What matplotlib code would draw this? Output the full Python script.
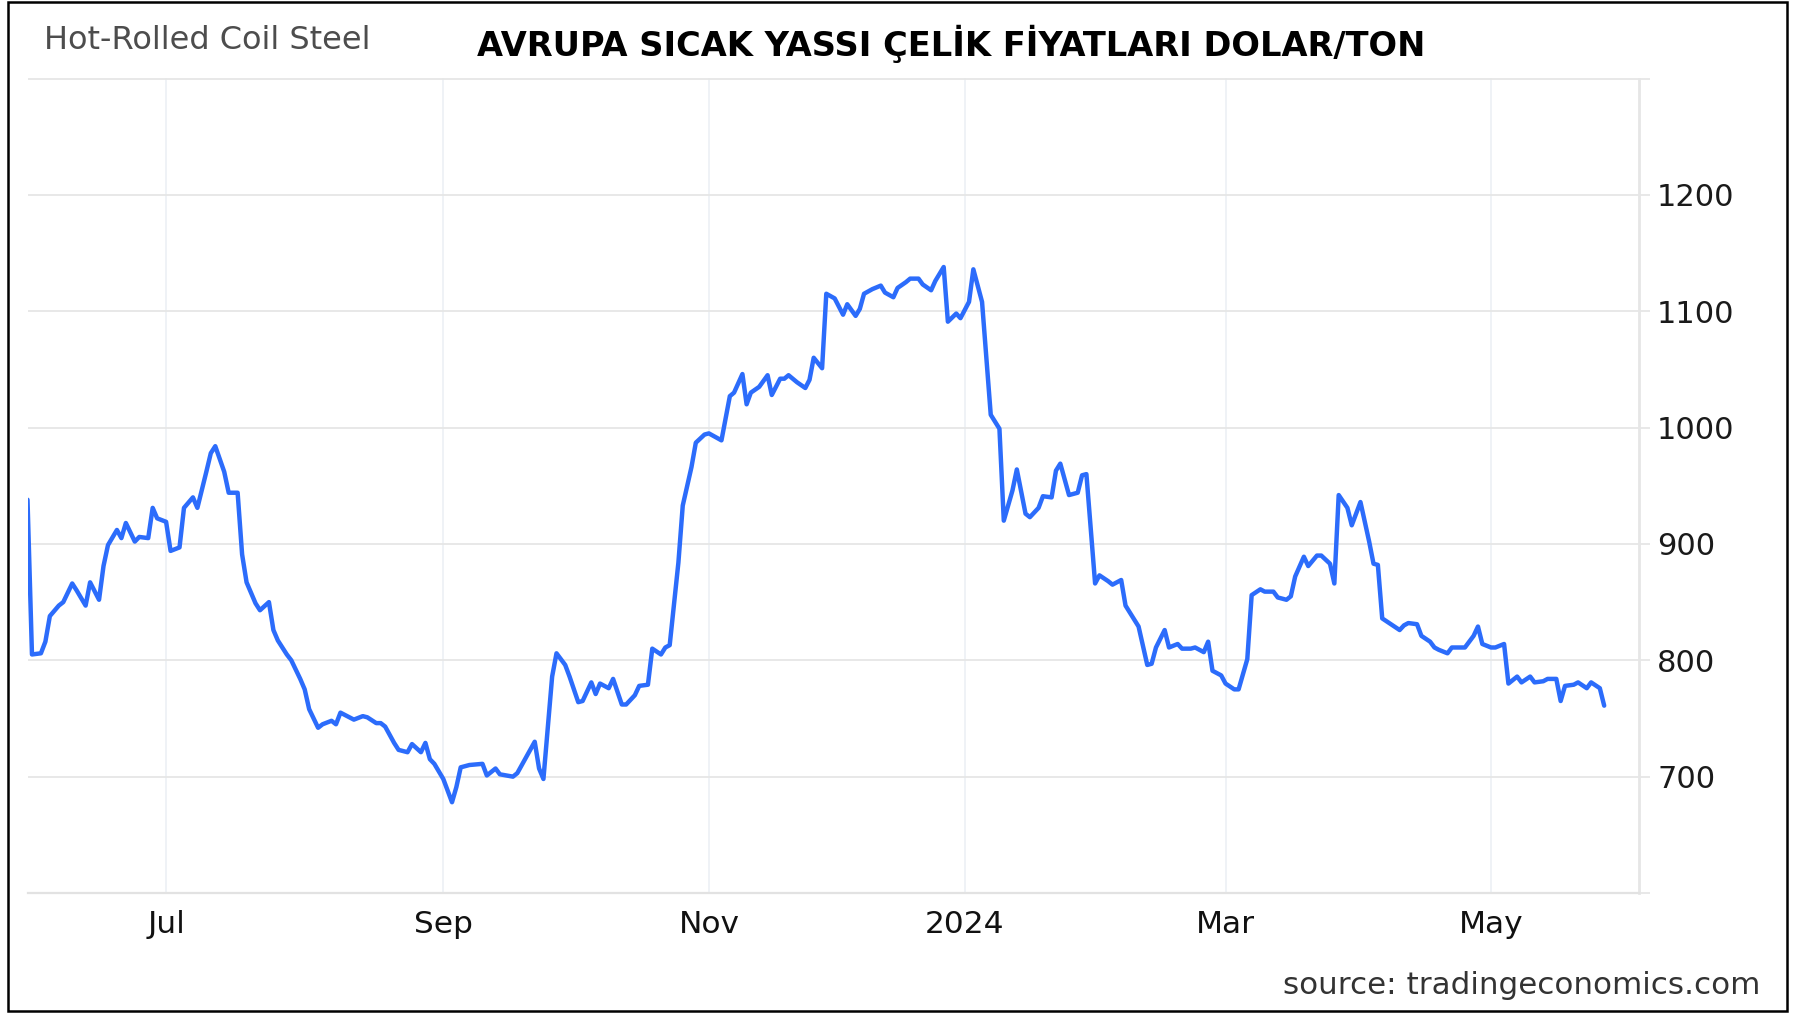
import matplotlib
matplotlib.use("Agg")
import matplotlib.pyplot as plt
import matplotlib.dates as mdates
from matplotlib.patches import Rectangle
from matplotlib.ticker import FuncFormatter, NullLocator
import numpy as np
import pandas as pd

# ---------------- data ----------------
dates = [
    "2023-05-31", "2023-06-01", "2023-06-03", "2023-06-04", "2023-06-05", "2023-06-07", "2023-06-08",
    "2023-06-10", "2023-06-11", "2023-06-13", "2023-06-14", "2023-06-16", "2023-06-17", "2023-06-18",
    "2023-06-20", "2023-06-21", "2023-06-22", "2023-06-24", "2023-06-25", "2023-06-27", "2023-06-28",
    "2023-06-29", "2023-07-01", "2023-07-02", "2023-07-04", "2023-07-05", "2023-07-07", "2023-07-08",
    "2023-07-10", "2023-07-11", "2023-07-12", "2023-07-14", "2023-07-15", "2023-07-17", "2023-07-18",
    "2023-07-19", "2023-07-21", "2023-07-22", "2023-07-24", "2023-07-25", "2023-07-26", "2023-07-28",
    "2023-07-29", "2023-07-31", "2023-08-01", "2023-08-02", "2023-08-04", "2023-08-05", "2023-08-07",
    "2023-08-08", "2023-08-09", "2023-08-11", "2023-08-12", "2023-08-14", "2023-08-15", "2023-08-17",
    "2023-08-18", "2023-08-19", "2023-08-21", "2023-08-22", "2023-08-24", "2023-08-25", "2023-08-27",
    "2023-08-28", "2023-08-29", "2023-08-30", "2023-09-01", "2023-09-03", "2023-09-04", "2023-09-05",
    "2023-09-07", "2023-09-10", "2023-09-11", "2023-09-13", "2023-09-14", "2023-09-17", "2023-09-18",
    "2023-09-22", "2023-09-23", "2023-09-24", "2023-09-26", "2023-09-27", "2023-09-29", "2023-09-30",
    "2023-10-02", "2023-10-03", "2023-10-05", "2023-10-06", "2023-10-07", "2023-10-09", "2023-10-10",
    "2023-10-12", "2023-10-13", "2023-10-15", "2023-10-16", "2023-10-18", "2023-10-19", "2023-10-21",
    "2023-10-22", "2023-10-23", "2023-10-25", "2023-10-26", "2023-10-28", "2023-10-29", "2023-10-31",
    "2023-11-01", "2023-11-02", "2023-11-04", "2023-11-06", "2023-11-07", "2023-11-09", "2023-11-10",
    "2023-11-11", "2023-11-13", "2023-11-15", "2023-11-16", "2023-11-18", "2023-11-19", "2023-11-20",
    "2023-11-22", "2023-11-24", "2023-11-25", "2023-11-26", "2023-11-28", "2023-11-29", "2023-12-01",
    "2023-12-03", "2023-12-04", "2023-12-06", "2023-12-07", "2023-12-08", "2023-12-10", "2023-12-12",
    "2023-12-13", "2023-12-15", "2023-12-16", "2023-12-18", "2023-12-19", "2023-12-21", "2023-12-22",
    "2023-12-24", "2023-12-25", "2023-12-27", "2023-12-28", "2023-12-30", "2023-12-31", "2024-01-02",
    "2024-01-03", "2024-01-05", "2024-01-06", "2024-01-07", "2024-01-09", "2024-01-10", "2024-01-12",
    "2024-01-13", "2024-01-15", "2024-01-16", "2024-01-18", "2024-01-19", "2024-01-21", "2024-01-22",
    "2024-01-23", "2024-01-25", "2024-01-27", "2024-01-28", "2024-01-29", "2024-01-31", "2024-02-01",
    "2024-02-03", "2024-02-04", "2024-02-06", "2024-02-07", "2024-02-09", "2024-02-10", "2024-02-12",
    "2024-02-13", "2024-02-14", "2024-02-16", "2024-02-17", "2024-02-19", "2024-02-20", "2024-02-22",
    "2024-02-23", "2024-02-25", "2024-02-26", "2024-02-27", "2024-02-29", "2024-03-01", "2024-03-03",
    "2024-03-04", "2024-03-06", "2024-03-07", "2024-03-09", "2024-03-10", "2024-03-12", "2024-03-13",
    "2024-03-15", "2024-03-16", "2024-03-17", "2024-03-19", "2024-03-20", "2024-03-22", "2024-03-23",
    "2024-03-25", "2024-03-26", "2024-03-27", "2024-03-29", "2024-03-30", "2024-04-01", "2024-04-03",
    "2024-04-04", "2024-04-05", "2024-04-06", "2024-04-08", "2024-04-10", "2024-04-11", "2024-04-12",
    "2024-04-14", "2024-04-15", "2024-04-17", "2024-04-18", "2024-04-19", "2024-04-21", "2024-04-22",
    "2024-04-24", "2024-04-25", "2024-04-27", "2024-04-28", "2024-04-29", "2024-05-01", "2024-05-02",
    "2024-05-04", "2024-05-05", "2024-05-07", "2024-05-08", "2024-05-10", "2024-05-11", "2024-05-13",
    "2024-05-14", "2024-05-16", "2024-05-17", "2024-05-18", "2024-05-20", "2024-05-21", "2024-05-23",
    "2024-05-24", "2024-05-26", "2024-05-27",
]
prices = [
    938, 805, 806, 816, 838, 847, 850,
    866, 860, 847, 867, 852, 881, 899,
    912, 905, 918, 902, 906, 905, 931,
    922, 919, 894, 897, 931, 940, 931,
    962, 978, 984, 962, 944, 944, 891,
    867, 849, 843, 850, 826, 817, 805,
    800, 784, 775, 758, 742, 745, 748,
    745, 755, 751, 749, 752, 751, 746,
    746, 743, 729, 723, 721, 728, 721,
    729, 715, 711, 698, 678, 691, 708,
    710, 711, 701, 707, 702, 700, 703,
    730, 707, 698, 786, 806, 796, 786,
    764, 765, 781, 771, 780, 776, 784,
    762, 762, 770, 778, 779, 810, 805,
    811, 813, 884, 933, 966, 987, 994,
    995, 993, 989, 1027, 1030, 1046, 1020,
    1030, 1035, 1045, 1028, 1042, 1042, 1045,
    1039, 1034, 1041, 1060, 1051, 1115, 1111,
    1097, 1106, 1096, 1102, 1115, 1119, 1122,
    1116, 1112, 1120, 1125, 1128, 1128, 1123,
    1118, 1126, 1138, 1091, 1098, 1094, 1108,
    1136, 1108, 1059, 1011, 999, 920, 946,
    964, 926, 923, 931, 941, 940, 963,
    969, 942, 944, 959, 960, 866, 873,
    868, 865, 869, 847, 835, 829, 796,
    797, 811, 826, 811, 814, 810, 810,
    811, 807, 816, 791, 787, 780, 775,
    775, 801, 856, 861, 859, 859, 854,
    852, 855, 872, 889, 881, 890, 890,
    883, 866, 942, 931, 916, 936, 902,
    883, 882, 836, 831, 826, 830, 832,
    831, 821, 816, 811, 809, 806, 811,
    811, 811, 821, 829, 814, 811, 811,
    814, 780, 786, 781, 786, 781, 782,
    784, 784, 765, 778, 779, 781, 776,
    781, 776, 761,
]
y_gridlines = [600, 700, 800, 900, 1000, 1100, 1200, 1300]
y_labels = [700, 800, 900, 1000, 1100, 1200]
x_end = "2024-06-04"

title = "AVRUPA SICAK YASSI ÇELİK FİYATLARI DOLAR/TON"
subtitle = "Hot-Rolled Coil Steel"
source = "source: tradingeconomics.com"

# ---------------- x-axis geometry of the source chart (slightly non-uniform) ----------------
knot_dates = ["2023-07-01", "2023-09-01", "2023-11-01", "2024-01-01", "2024-03-01", "2024-05-01"]
knot_pos = [166.5, 443.5, 708.9, 964.5, 1225.2, 1490.5]
kd = mdates.date2num(pd.to_datetime(knot_dates))
kp = np.array(knot_pos)
s0 = (kp[1] - kp[0]) / (kd[1] - kd[0])
s1 = (kp[-1] - kp[-2]) / (kd[-1] - kd[-2])
kd_ext = np.concatenate([[kd[0] - 5000], kd, [kd[-1] + 5000]])
kp_ext = np.concatenate([[kp[0] - 5000 * s0], kp, [kp[-1] + 5000 * s1]])


def fwd(v):
    return np.interp(v, kd_ext, kp_ext)


def inv(p):
    return np.interp(p, kp_ext, kd_ext)


# ---------------- figure ----------------
plt.rcParams['font.family'] = ['DejaVu Sans']

W, H = 1798, 1013
fig = plt.figure(figsize=(W / 100, H / 100), dpi=100)
fig.patch.set_facecolor('white')

left, right, top, bottom = 27.5, 1639, 78.5, 893
ax = fig.add_axes([left / W, 1 - bottom / H, (right - left) / W, (bottom - top) / H])

x = pd.to_datetime(dates)
ax.plot(x, prices, color='#2c6cfb', lw=3.2, solid_joinstyle='round', solid_capstyle='round', zorder=3)

ax.set_xscale('function', functions=(fwd, inv))
ax.set_xlim(x[0], pd.Timestamp(x_end))
ax.set_ylim(y_gridlines[0], y_gridlines[-1])

# y axis on the right
ax.yaxis.tick_right()
ax.set_yticks(y_gridlines)
ax.set_yticklabels([str(v) if v in y_labels else "" for v in y_gridlines])
ax.tick_params(axis='y', length=8, width=1.2, color='#e4e4e4', pad=5,
               labelsize=22, labelcolor='#1a1a1a')


def month_fmt(v, pos):
    d = mdates.num2date(v)
    return d.strftime('%Y') if d.month == 1 else d.strftime('%b')


ax.xaxis.set_major_locator(mdates.MonthLocator(bymonth=[1, 3, 5, 7, 9, 11]))
ax.xaxis.set_major_formatter(FuncFormatter(month_fmt))
ax.xaxis.set_minor_locator(NullLocator())
ax.tick_params(axis='x', which='both', length=0, pad=12, labelsize=22.5, labelcolor='#111111')

ax.grid(axis='y', color='#e6e6e6', lw=1.3)
ax.grid(axis='x', color='#eef1f6', lw=1.3)
ax.set_axisbelow(True)

for s in ['top', 'left']:
    ax.spines[s].set_visible(False)
ax.spines['bottom'].set_color('#e2e2e2')
ax.spines['bottom'].set_linewidth(1.6)
ax.spines['right'].set_color('#e6e6e6')
ax.spines['right'].set_linewidth(2.0)

# texts
fig.text(44 / W, 1 - 49.3 / H, subtitle, ha='left', va='baseline', fontsize=23, color='#4d4d4d')
fig.text(951.5 / W, 1 - 56 / H, title, ha='center', va='baseline', fontsize=24.2,
         fontweight='bold', color='black')
fig.text(1760 / W, 1 - 994 / H, source, ha='right', va='baseline', fontsize=22.3, color='#333333')

# outer black frame
fig.add_artist(Rectangle((8 / W, 1 - 1011 / H), (1787 - 8) / W, (1011 - 2) / H,
                         transform=fig.transFigure, fill=False, edgecolor='black', lw=1.8))

fig.savefig('out.png', dpi=100, facecolor='white')
